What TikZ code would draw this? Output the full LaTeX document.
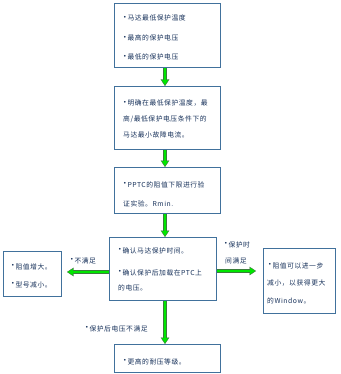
\documentclass[tikz,border=0pt]{standalone}
\usepackage{fontspec}
\newfontfamily\cjk[LetterSpace=8]{Noto Sans CJK SC}
\newfontfamily\djv{DejaVu Sans}
\usetikzlibrary{arrows.meta}
\definecolor{boxc}{HTML}{41719C}
\definecolor{txtc}{HTML}{17315A}
\definecolor{gfill}{HTML}{00E600}
\definecolor{gedge}{HTML}{3A7D3A}
\newcommand\bul{\makebox[4.3pt][l]{\raisebox{1.4pt}{\djv\fontsize{6}{6}\selectfont •}}}
\tikzset{
 box/.style={draw=boxc, line width=0.9pt, anchor=north west, inner sep=0pt},
 t/.style={anchor=base west, inner sep=0pt, text=txtc, font=\cjk\fontsize{6.8}{8}\selectfont},
 gout/.style={draw=gedge, line width=3.4pt, -{Triangle[length=6.5pt,width=8.5pt,line width=0.2pt]}},
 gin/.style={draw=gfill, line width=2pt, -{Triangle[length=5pt,width=6.2pt,line width=0.2pt]}, shorten >=1pt},
}
\newcommand\garr[2]{\draw[gout] #1 -- #2; \draw[gin] #1 -- #2;}
\begin{document}
\begin{tikzpicture}[x=1pt,y=-1pt]
\useasboundingbox (0,0) rectangle (340,374);
% boxes
\node[box, minimum width=106pt, minimum height=64pt] (b1) at (114,3) {};
\node[box, minimum width=106pt, minimum height=63pt] (b2) at (114,86) {};
\node[box, minimum width=106pt, minimum height=46pt] (b3) at (114,167) {};
\node[box, minimum width=107pt, minimum height=63pt] (b4) at (109,237) {};
\node[box, minimum width=58pt, minimum height=45pt] (b5) at (3,251) {};
\node[box, minimum width=72pt, minimum height=65pt] (b6) at (263,248) {};
\node[box, minimum width=106pt, minimum height=28pt] (b7) at (114,344) {};
% texts
\node[t] (t11) at (123,21) {\bul 马达最低保护温度};
\node[t] (t12) at (123,41) {\bul 最高的保护电压};
\node[t] (t13) at (123,60) {\bul 最低的保护电压};
\node[t] (t21) at (123,106) {\bul 明确在最低保护温度，最};
\node[t] (t22) at (123,122) {高/最低保护电压条件下的};
\node[t] (t23) at (123,138) {马达最小故障电流。};
\node[t] (t31) at (123,187) {\bul PPTC的阻值下限进行验};
\node[t] (t32) at (123,206) {证实验。Rmin.};
\node[t] (t41) at (118,253) {\bul 确认马达保护时间。};
\node[t] (t42) at (118,275) {\bul 确认保护后加载在PTC上};
\node[t] (t43) at (118,290) {的电压。};
\node[t] (t51) at (11,269) {\bul 阻值增大。};
\node[t] (t52) at (11,287) {\bul 型号减小。};
\node[t] (t61) at (268,268) {\bul 阻值可以进一步};
\node[t] (t62) at (267,285) {减小，以获得更大};
\node[t] (t63) at (267,303) {的Window。};
\node[t] (t71) at (123,364) {\bul 更高的耐压等级。};
% labels
\node[t] (l1) at (70,263) {\bul 不满足};
\node[t] (l2) at (224,247) {\bul 保护时};
\node[t] (l3) at (225,263) {间满足};
\node[t] (l4) at (85,331) {\bul 保护后电压不满足};
% arrows
\coordinate (col) at (165,0);
\coordinate (le) at (67,272);
\coordinate (re) at (256,271);
\garr{(b1.south -| col)}{(b2.north -| col)}
\garr{(b2.south -| col)}{(b3.north -| col)}
\garr{(b3.south -| col)}{(b4.north -| col)}
\garr{(b4.south -| col)}{(b7.north -| col)}
\garr{(b4.west |- le)}{(le)}
\garr{(b4.east |- re)}{(re)}
\end{tikzpicture}
\end{document}
